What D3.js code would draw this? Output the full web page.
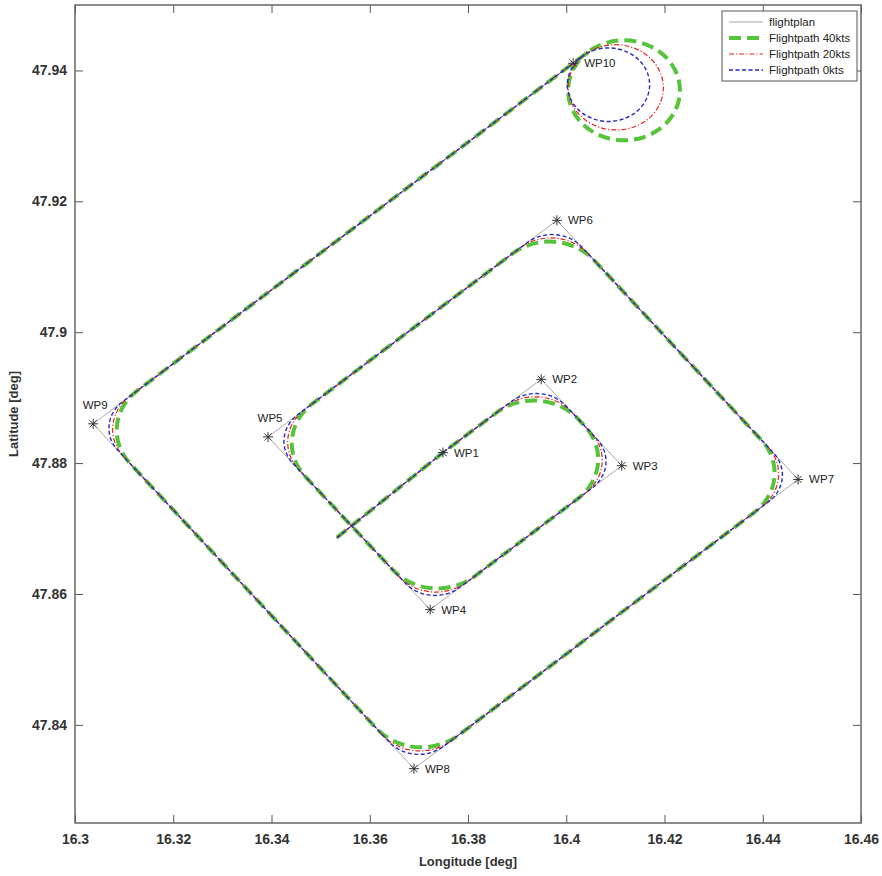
<!DOCTYPE html>
<html><head><meta charset="utf-8">
<script src="https://cdn.jsdelivr.net/npm/d3@7"></script>
<style>
body{margin:0;background:#fff}
text{font-family:"Liberation Sans",Arial,Helvetica,sans-serif}
</style>
</head><body>
<svg id="c" width="882" height="876"></svg>
<script>
// ---------------- data ----------------
const startLon = 16.3533, startLat = 47.8686;
const wpNames = ["WP1","WP2","WP3","WP4","WP5","WP6","WP7","WP8","WP9","WP10"];
const wpLon = [16.3749,16.3949,16.4113,16.3723,16.3393,16.3981,16.4472,16.3690,16.3037,16.4014];
const wpLat = [47.8816,47.8928,47.8796,47.8576,47.8840,47.9171,47.8775,47.8333,47.8860,47.9411];

const seriesNames = ["Flightpath 40kts","Flightpath 20kts","Flightpath 0kts"];
const turnRadius = [880,730,590];          // metres
const loiterLon = [16.4122,16.4101,16.4085];
const loiterLat = [47.9366,47.9374,47.9379];
const loiterRadius = [850,730,625];        // metres

const xTicks = [16.30,16.32,16.34,16.36,16.38,16.40,16.42,16.44,16.46];
const xTickLabels = ["16.3","16.32","16.34","16.36","16.38","16.4","16.42","16.44","16.46"];
const yTicks = [47.84,47.86,47.88,47.90,47.92,47.94];
const yTickLabels = ["47.84","47.86","47.88","47.9","47.92","47.94"];

// ---------------- styles ----------------
const seriesStyle = [
  {color:"#55c43a", width:4,   dash:"12,6"},
  {color:"#e8231e", width:1.2, dash:"5,2,1.2,2"},
  {color:"#2a2ac8", width:1.4, dash:"4,2.5"}
];
const planStyle = {color:"#a8a8a8", width:1};
const labelPlace = {WP5:"above", WP9:"above"};

const L = 75, R = 861, T = 5, B = 823;
const svg = d3.select("#c");
svg.append("rect").attr("width",882).attr("height",876).attr("fill","#fff");

const x = d3.scaleLinear().domain([16.30,16.46]).range([L,R]);
const y = d3.scaleLinear().domain([47.825,47.95]).range([B,T]);

// metric helpers
const lon0 = 16.38, lat0 = 47.89;
const mx = 111320*Math.cos(lat0*Math.PI/180), my = 111200;
const toM = (lon,lat)=>[(lon-lon0)*mx,(lat-lat0)*my];
const toPx = p=>[x(p[0]/mx+lon0), y(p[1]/my+lat0)];
const fmt = p=>p[0].toFixed(2)+","+p[1].toFixed(2);
const sub=(a,b)=>[a[0]-b[0],a[1]-b[1]], add=(a,b)=>[a[0]+b[0],a[1]+b[1]], mul=(a,s)=>[a[0]*s,a[1]*s];
const dot=(a,b)=>a[0]*b[0]+a[1]*b[1];
const norm=a=>{const l=Math.hypot(a[0],a[1]);return [a[0]/l,a[1]/l];};
const radPx = r=>[Math.abs(x(lon0+r/mx)-x(lon0)), Math.abs(y(lat0+r/my)-y(lat0))];

function buildPath(k){
  const Rt = turnRadius[k];
  const pts = [toM(startLon,startLat)].concat(wpLon.map((lo,i)=>toM(lo,wpLat[i])));
  const [rx,ry] = radPx(Rt);
  let d = "M"+fmt(toPx(pts[0]));
  let last = pts[0];
  for(let i=1;i<pts.length-1;i++){
    const W=pts[i], A=pts[i-1], Bp=pts[i+1];
    const u1=norm(sub(W,A)), u2=norm(sub(Bp,W));
    const th=Math.acos(Math.max(-1,Math.min(1,dot(u1,u2))));
    const t=Rt*Math.tan(th/2);
    const pin=sub(W,mul(u1,t)), pout=add(W,mul(u2,t));
    const cross=u1[0]*u2[1]-u1[1]*u2[0];
    const sweep=cross<0?1:0;
    d += "L"+fmt(toPx(pin))+"A"+rx.toFixed(2)+","+ry.toFixed(2)+" 0 0 "+sweep+" "+fmt(toPx(pout));
    last = pout;
  }
  // leg to loiter circle (tangent entry) and full loiter
  const n = pts.length;
  const u = norm(sub(pts[n-1],pts[n-2]));
  const C0 = toM(loiterLon[k],loiterLat[k]), Rl = loiterRadius[k];
  const F = add(last, mul(u, dot(sub(C0,last),u)));
  const nv = norm(sub(F,C0));
  const P1 = F;                                  // tangent point on the leg line
  const C = sub(F, mul(nv,Rl));                  // circle centre made tangent to the leg
  const P2 = sub(C, mul(nv,Rl));
  const [lx,ly] = radPx(Rl);
  d += "L"+fmt(toPx(P1));
  d += "A"+lx.toFixed(2)+","+ly.toFixed(2)+" 0 0 1 "+fmt(toPx(P2));
  d += "A"+lx.toFixed(2)+","+ly.toFixed(2)+" 0 0 1 "+fmt(toPx(P1));
  return d;
}

// flight plan
const planData = [[startLon,startLat]].concat(wpLon.map((lo,i)=>[lo,wpLat[i]]));
svg.append("path")
  .attr("d", d3.line().x(d=>x(d[0])).y(d=>y(d[1]))(planData))
  .attr("fill","none").attr("stroke",planStyle.color).attr("stroke-width",planStyle.width);

// flight paths
seriesNames.forEach((s,k)=>{
  svg.append("path").attr("d",buildPath(k)).attr("fill","none")
    .attr("stroke",seriesStyle[k].color).attr("stroke-width",seriesStyle[k].width)
    .attr("stroke-dasharray",seriesStyle[k].dash);
});

// waypoint markers
const wpG = svg.append("g");
wpNames.forEach((nm,i)=>{
  const cx=x(wpLon[i]), cy=y(wpLat[i]), s=5;
  const g=wpG.append("g").attr("stroke","#333").attr("stroke-width",1);
  g.append("line").attr("x1",cx-s).attr("x2",cx+s).attr("y1",cy).attr("y2",cy);
  g.append("line").attr("x1",cx).attr("x2",cx).attr("y1",cy-s).attr("y2",cy+s);
  const q=s*0.72;
  g.append("line").attr("x1",cx-q).attr("x2",cx+q).attr("y1",cy-q).attr("y2",cy+q);
  g.append("line").attr("x1",cx-q).attr("x2",cx+q).attr("y1",cy+q).attr("y2",cy-q);
  const t = wpG.append("text").text(nm).attr("font-size","11.5px").attr("fill","#222");
  if(labelPlace[nm]==="above"){
    t.attr("x",cx+2).attr("y",cy-15).attr("text-anchor","middle");
  } else {
    t.attr("x",cx+11).attr("y",cy+4);
  }
});

// axes
const tickCol="#555";
const gx=svg.append("g").attr("transform",`translate(0,${B})`)
  .call(d3.axisBottom(x).tickValues(xTicks).tickFormat((d,i)=>xTickLabels[i]).tickSize(-8).tickPadding(11));
const gy=svg.append("g").attr("transform",`translate(${L},0)`)
  .call(d3.axisLeft(y).tickValues(yTicks).tickFormat((d,i)=>yTickLabels[i]).tickSize(-8).tickPadding(8));
const gt=svg.append("g").attr("transform",`translate(0,${T})`)
  .call(d3.axisTop(x).tickValues(xTicks).tickFormat("").tickSize(-8));
const gr=svg.append("g").attr("transform",`translate(${R},0)`)
  .call(d3.axisRight(y).tickValues(yTicks).tickFormat("").tickSize(-8));
[gx,gy,gt,gr].forEach(g=>{
  g.select(".domain").remove();
  g.selectAll(".tick line").attr("stroke",tickCol).attr("stroke-width",1);
  g.selectAll("text").attr("font-size","14px").attr("font-weight","bold").attr("fill","#333")
    .attr("font-family",'"Liberation Sans",Arial,sans-serif');
});
svg.append("rect").attr("x",L).attr("y",T).attr("width",R-L).attr("height",B-T)
  .attr("fill","none").attr("stroke","#666").attr("stroke-width",1.5);

// axis labels
svg.append("text").attr("x",(L+R)/2).attr("y",866).attr("text-anchor","middle")
  .attr("font-size","13px").attr("font-weight","bold").attr("fill","#333").text("Longitude [deg]");
svg.append("text").attr("transform",`translate(18,${(T+B)/2}) rotate(-90)`).attr("text-anchor","middle")
  .attr("font-size","13px").attr("font-weight","bold").attr("fill","#333").text("Latitude [deg]");

// legend
const lg = svg.append("g");
lg.append("rect").attr("x",722).attr("y",11).attr("width",135).attr("height",70)
  .attr("fill","#fff").attr("stroke","#555").attr("stroke-width",1);
const legItems = [{name:"flightplan", st:{color:planStyle.color,width:planStyle.width,dash:null}}]
  .concat(seriesNames.map((s,k)=>({name:s, st:seriesStyle[k]})));
legItems.forEach((it,i)=>{
  const yy = 22 + i*16;
  const ln = lg.append("line").attr("x1",729).attr("x2",763).attr("y1",yy).attr("y2",yy)
    .attr("stroke",it.st.color).attr("stroke-width",it.st.width);
  if(it.st.dash) ln.attr("stroke-dasharray",it.st.dash);
  lg.append("text").attr("x",769).attr("y",yy+4).attr("font-size","11.5px").attr("fill","#222").text(it.name);
});
</script>
</body></html>
